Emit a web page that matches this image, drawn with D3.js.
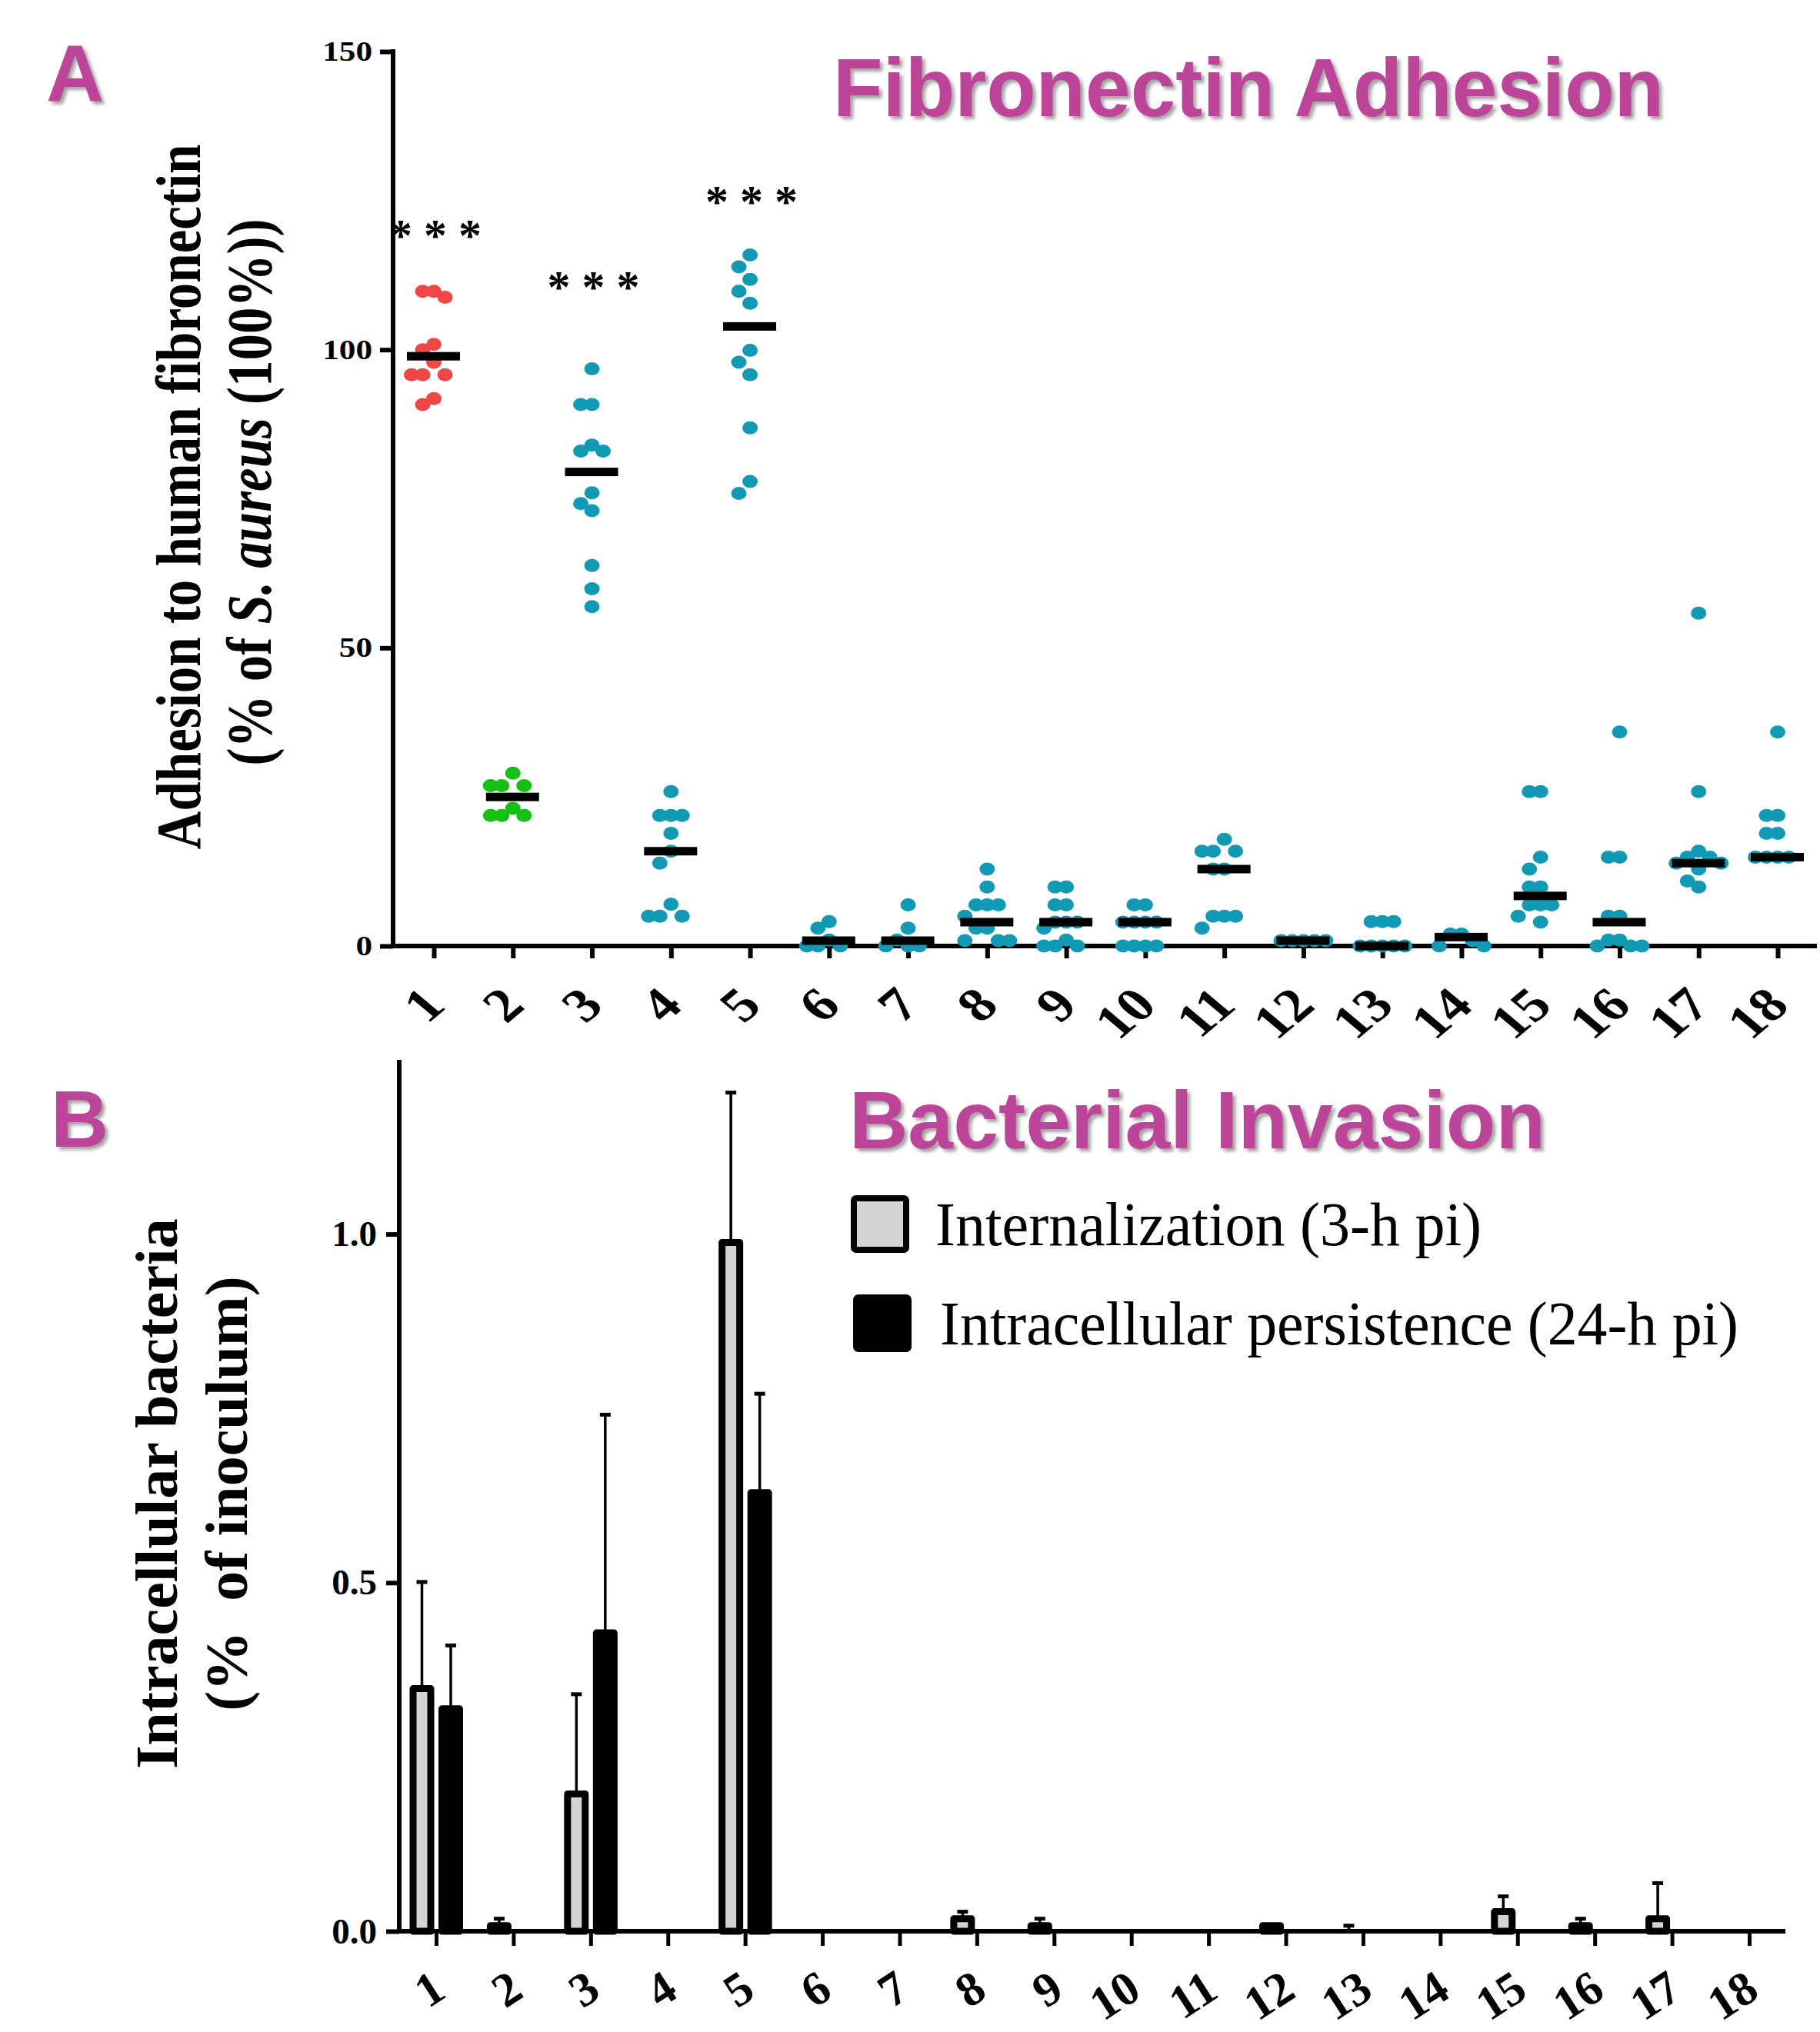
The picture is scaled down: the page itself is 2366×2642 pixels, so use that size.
<!DOCTYPE html>
<html>
<head>
<meta charset="utf-8">
<script src="https://cdn.jsdelivr.net/npm/d3@7"></script>
<style>
  html, body { margin: 0; padding: 0; background: #fff; }
  svg { display: block; }
</style>
</head>
<body>
<div id="chart"></div>
<script>
'use strict';

// strains on both panels
const strains = d3.range(1, 19);

// panel A: adhesion to fibronectin, one list of replicate values per strain
const adhesionValues = [
    [109.8, 109.8, 108.8, 100.9, 100.0, 97.9, 95.8, 95.8, 95.8, 91.8, 90.8],
    [29.0, 26.9, 26.9, 26.9, 23.1, 21.9, 21.9, 21.9],
    [96.8, 90.8, 90.8, 84.0, 83.0, 83.0, 76.0, 74.2, 73.0, 63.8, 59.9, 56.9],
    [25.9, 21.9, 21.9, 21.9, 18.9, 15.9, 13.9, 7.0, 5.0, 5.0, 5.0],
    [115.9, 113.9, 111.8, 109.8, 107.8, 99.9, 97.9, 95.8, 86.9, 77.9, 75.9],
    [4.1, 3.0, 1.0, 0, 0, 0],
    [6.9, 3.0, 1.0, 0, 0, 0],
    [12.9, 9.9, 6.9, 6.9, 6.9, 5.0, 3.0, 3.0, 0.9, 0.9, 0.9],
    [9.9, 9.9, 6.9, 6.9, 4.0, 4.0, 4.0, 3.0, 1.0, 0, 0, 0],
    [6.9, 6.9, 4.0, 4.0, 4.0, 4.0, 0, 0, 0, 0],
    [17.9, 15.9, 15.9, 15.9, 12.9, 12.9, 5.0, 5.0, 5.0, 3.0],
    [0.9, 0.9, 0.9, 0.9, 0.9],
    [4.1, 4.1, 4.1, 0, 0, 0, 0, 0],
    [2.0, 2.0, 0.9, 0, 0],
    [25.9, 25.9, 14.9, 12.9, 9.9, 9.9, 6.9, 6.9, 6.9, 5.0, 4.0],
    [35.9, 14.9, 14.9, 5.0, 5.0, 1.0, 1.0, 0, 0, 0],
    [55.8, 25.9, 15.9, 14.9, 14.9, 13.9, 13.9, 12.9, 10.9, 9.9],
    [35.9, 21.9, 21.9, 18.9, 18.9, 14.9, 14.9, 14.9, 14.9]
];
const adhesionMedians = [98.9, 25.0, 79.5, 15.9, 103.9, 0.9, 0.9, 4.0, 4.0, 4.0, 12.9, 0.9, 0, 1.5, 8.4, 4.0, 13.9, 14.9];
const starGroups = [1, 3, 5];
const starLevels = [120.3, 111.7, 126.0];
const adhesionTicks = [0, 50, 100, 150];

// panel B: invasion, mean and SD per strain
const internalization   = [0.348, 0.008, 0.197, 0, 0.988, 0, 0, 0.018, 0.008, 0, 0, 0.008, 0, 0, 0.028, 0.008, 0.018, 0];
const internalizationSD = [0.153, 0.010, 0.143, 0, 0.215, 0, 0, 0.010, 0.010, 0, 0, 0, 0.008, 0, 0.022, 0.010, 0.051, 0];
const persistence   = [0.319, 0, 0.428, 0, 0.629, 0, 0, 0, 0, 0, 0, 0, 0, 0, 0, 0, 0, 0];
const persistenceSD = [0.091, 0, 0.313, 0, 0.142, 0, 0, 0, 0, 0, 0, 0, 0, 0, 0, 0, 0, 0];
const invasionTicks = [0, 0.5, 1.0];
const legendLabels = ['Internalization (3-h pi)', 'Intracellular persistence (24-h pi)'];

const width = 2366, height = 2642;
const SX = 1.2; // panel A is drawn a bit wider than tall in the original
const serif = '"Liberation Serif", "Times New Roman", serif';
const sans = '"Liberation Sans", Arial, sans-serif';
const magenta = '#bc4599';
const teal = '#1299b4';

const dotColor = (i) => i === 0 ? '#f04646' : (i === 1 ? '#16be16' : teal);

const svg = d3.select('#chart').append('svg')
    .attr('width', width)
    .attr('height', height);

svg.append('defs').append('filter')
    .attr('id', 'shadow')
    .attr('x', '-10%').attr('y', '-10%').attr('width', '120%').attr('height', '130%')
    .append('feDropShadow')
    .attr('dx', 4).attr('dy', 4).attr('stdDeviation', 2)
    .attr('flood-color', '#666').attr('flood-opacity', 0.6);

// big magenta titles
const title = (x, y, size, txt, len) => {
    const t = svg.append('text')
        .attr('x', x).attr('y', y)
        .attr('font-family', sans).attr('font-weight', 'bold')
        .attr('font-size', size).attr('fill', magenta)
        .attr('filter', 'url(#shadow)')
        .text(txt);
    if (len) t.attr('textLength', len).attr('lengthAdjust', 'spacingAndGlyphs');
};

title(60, 131, 104, 'A');
title(1083, 151, 108, 'Fibronectin Adhesion', 1080);
title(66, 1491, 104, 'B');
title(1104, 1493, 106, 'Bacterial Invasion', 905);

// simple swarm: dots in the same column need some vertical room
const swarm = (values, y) => {
    const placed = [];
    const order = [0, -1, 1, -2, 2, -3, 3, -4, 4];
    values.forEach(v => {
        const py = y(v);
        const k = order.find(c => placed.every(p => p.k !== c || Math.abs(p.py - py) >= 20));
        placed.push({ v: v, py: py, k: k });
    });
    return placed;
};

// ---------- panel A ----------
const xA = d3.scalePoint().domain(strains).range([564, 2311]);
const yA = d3.scaleLinear().domain([0, 150]).range([1230, 67]);
const gA = svg.append('g');

gA.append('line')
    .attr('x1', 511).attr('x2', 511).attr('y1', yA(150) - 3).attr('y2', yA(0) + 3)
    .attr('stroke', '#000').attr('stroke-width', 6);
gA.append('line')
    .attr('x1', 508).attr('x2', 2362).attr('y1', yA(0)).attr('y2', yA(0))
    .attr('stroke', '#000').attr('stroke-width', 6);

const yAxisA = gA.append('g')
    .attr('transform', 'translate(511,0)')
    .call(d3.axisLeft(yA).tickValues(adhesionTicks).tickSize(17).tickPadding(10));
yAxisA.select('.domain').remove();
yAxisA.selectAll('line').attr('stroke-width', 6);
yAxisA.selectAll('text')
    .attr('x', -27 / SX)
    .attr('transform', `scale(${SX},1)`)
    .attr('font-family', serif).attr('font-weight', 'bold').attr('font-size', 36)
    .attr('fill', '#000');

const xAxisA = gA.append('g')
    .attr('transform', `translate(0,${yA(0)})`)
    .call(d3.axisBottom(xA).tickSize(16));
xAxisA.select('.domain').remove();
xAxisA.selectAll('line').attr('stroke-width', 6);
xAxisA.selectAll('text')
    .attr('x', 0).attr('y', 0).attr('dy', null)
    .attr('text-anchor', 'end')
    .attr('transform', `translate(17,80) scale(${SX},1) rotate(-45)`)
    .attr('font-family', serif).attr('font-weight', 'bold').attr('font-size', 62)
    .attr('fill', '#000');

// dots
adhesionValues.forEach((vals, i) => {
    const cx = xA(strains[i]);
    gA.append('g').selectAll('ellipse')
        .data(swarm(vals, yA))
        .enter()
        .append('ellipse')
        .attr('cx', d => cx + d.k * 14.5)
        .attr('cy', d => d.py)
        .attr('rx', 10)
        .attr('ry', 8.5)
        .attr('fill', dotColor(i));
});

// median bars
gA.selectAll('.median')
    .data(adhesionMedians)
    .enter()
    .append('rect')
    .attr('class', 'median')
    .attr('x', (d, i) => xA(strains[i]) - 35)
    .attr('y', d => yA(d) - 5.5)
    .attr('width', 69)
    .attr('height', 11)
    .attr('fill', '#000');

// significance stars
gA.selectAll('.stars')
    .data(starGroups)
    .enter()
    .append('text')
    .attr('class', 'stars')
    .attr('text-anchor', 'middle')
    .attr('x', d => xA(d) + 2)
    .attr('y', (d, i) => yA(starLevels[i]) + 29)
    .attr('font-family', serif).attr('font-weight', 'bold').attr('font-size', 60)
    .text('* * *');

// y title A
gA.append('text')
    .attr('transform', `translate(260,646) scale(${SX},1) rotate(-90)`)
    .attr('text-anchor', 'middle')
    .attr('font-family', serif).attr('font-weight', 'bold').attr('font-size', 69)
    .text('Adhesion to human fibronectin');
const yTitle2 = gA.append('text')
    .attr('transform', `translate(352,640) scale(${SX},1) rotate(-90)`)
    .attr('text-anchor', 'middle')
    .attr('font-family', serif).attr('font-weight', 'bold').attr('font-size', 69)
    .style('white-space', 'pre');
yTitle2.append('tspan').text('(% of ');
yTitle2.append('tspan').attr('font-style', 'italic').text('S. aureus');
yTitle2.append('tspan').text(' (100%))');

// ---------- panel B ----------
const xB = d3.scalePoint().domain(strains).range([567, 2274]);
const yB = d3.scaleLinear().domain([0, 1.25]).range([2511, 1378]);
const gB = svg.append('g');

gB.append('line')
    .attr('x1', 519).attr('x2', 519).attr('y1', yB(1.25)).attr('y2', yB(0) + 3)
    .attr('stroke', '#000').attr('stroke-width', 6);

const yAxisB = gB.append('g')
    .attr('transform', 'translate(519,0)')
    .call(d3.axisLeft(yB).tickValues(invasionTicks).tickFormat(d3.format('.1f')).tickSize(17).tickPadding(12));
yAxisB.select('.domain').remove();
yAxisB.selectAll('line').attr('stroke-width', 6);
yAxisB.selectAll('text')
    .attr('font-family', serif).attr('font-weight', 'bold').attr('font-size', 47)
    .attr('fill', '#000');

const xAxisB = gB.append('g')
    .attr('transform', `translate(0,${yB(0)})`)
    .call(d3.axisBottom(xB).tickSize(19));
xAxisB.select('.domain').remove();
xAxisB.selectAll('line').attr('stroke-width', 5);
xAxisB.selectAll('text')
    .attr('x', 0).attr('y', 0).attr('dy', null)
    .attr('text-anchor', 'end')
    .attr('transform', 'translate(15,84) rotate(-33)')
    .attr('font-family', serif).attr('font-weight', 'bold').attr('font-size', 62)
    .attr('fill', '#000');

const series = [
    { mean: internalization, sd: internalizationSD, fill: '#d3d3d3', shift: -18.5 },
    { mean: persistence, sd: persistenceSD, fill: '#000', shift: 19 }
];

series.forEach(s => {
    const rows = strains.map((d, i) => ({ strain: d, mean: s.mean[i], sd: s.sd[i] }));

    gB.append('g').selectAll('rect')
        .data(rows.filter(r => r.mean > 0))
        .enter()
        .append('rect')
        .attr('x', d => xB(d.strain) + s.shift - 11.5)
        .attr('y', d => yB(d.mean))
        .attr('width', 23)
        .attr('height', d => yB(0) - yB(d.mean))
        .attr('fill', s.fill)
        .attr('stroke', '#000')
        .attr('stroke-width', 9)
        .attr('stroke-linejoin', 'round');

    const err = gB.append('g').selectAll('g')
        .data(rows.filter(r => r.sd > 0))
        .enter()
        .append('g');
    err.append('line')
        .attr('x1', d => xB(d.strain) + s.shift)
        .attr('x2', d => xB(d.strain) + s.shift)
        .attr('y1', d => yB(d.mean))
        .attr('y2', d => yB(d.mean + d.sd))
        .attr('stroke', '#000').attr('stroke-width', 3.5);
    err.append('line')
        .attr('x1', d => xB(d.strain) + s.shift - 7)
        .attr('x2', d => xB(d.strain) + s.shift + 7)
        .attr('y1', d => yB(d.mean + d.sd))
        .attr('y2', d => yB(d.mean + d.sd))
        .attr('stroke', '#000').attr('stroke-width', 5);
});

// x axis line on top of bar bottoms
gB.append('line')
    .attr('x1', 516).attr('x2', 2321).attr('y1', yB(0)).attr('y2', yB(0))
    .attr('stroke', '#000').attr('stroke-width', 6);

// legend
const legend = gB.append('g');
legend.selectAll('rect')
    .data(series)
    .enter()
    .append('rect')
    .attr('x', (d, i) => 1110 + i * 3)
    .attr('y', (d, i) => 1558 + i * 129)
    .attr('width', 68)
    .attr('height', 67)
    .attr('rx', 3)
    .attr('fill', d => d.fill)
    .attr('stroke', '#000')
    .attr('stroke-width', 8);
legend.selectAll('text')
    .data(legendLabels)
    .enter()
    .append('text')
    .attr('x', (d, i) => 1216 + i * 6)
    .attr('y', (d, i) => 1619 + i * 129)
    .attr('textLength', (d, i) => i === 0 ? 710 : 1038)
    .attr('lengthAdjust', 'spacingAndGlyphs')
    .attr('font-family', serif).attr('font-size', 81)
    .text(d => d);

// y title B
gB.append('text')
    .attr('transform', 'translate(230,1942) rotate(-90)')
    .attr('text-anchor', 'middle')
    .attr('font-family', serif).attr('font-weight', 'bold').attr('font-size', 78)
    .text('Intracellular bacteria');
gB.append('text')
    .attr('transform', 'translate(321,1942) rotate(-90)')
    .attr('text-anchor', 'middle')
    .attr('font-family', serif).attr('font-weight', 'bold').attr('font-size', 78)
    .style('white-space', 'pre')
    .text('(%  of inoculum)');
</script>
</body>
</html>
